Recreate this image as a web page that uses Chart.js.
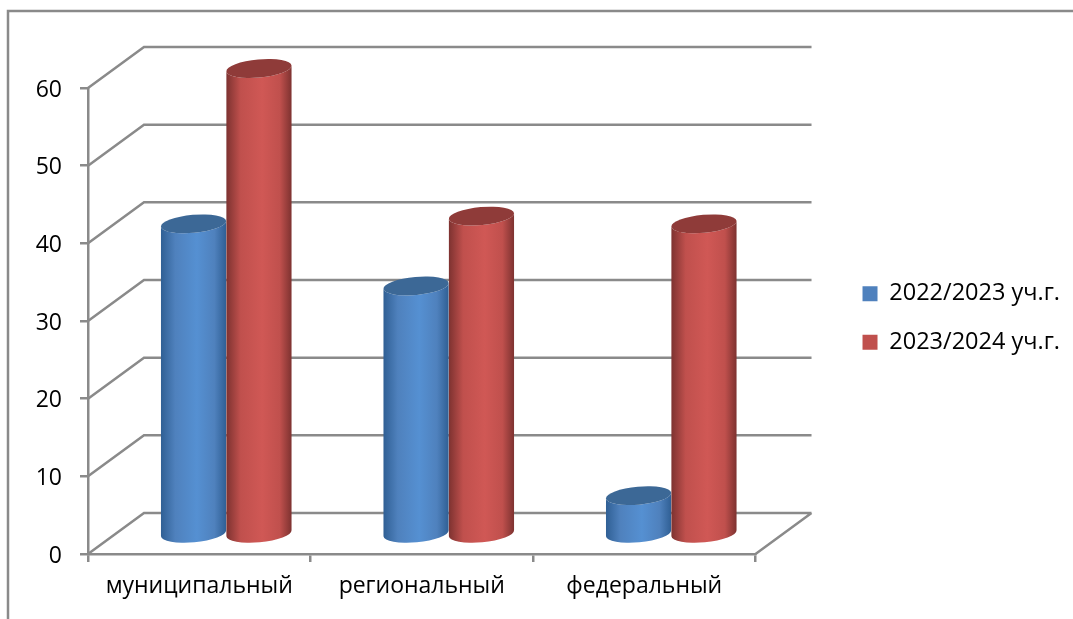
<!DOCTYPE html>
<html lang="ru">
<head>
<meta charset="utf-8">
<title>Диаграмма</title>
<script src="https://cdn.jsdelivr.net/npm/chart.js@4"></script>
<style>
    html, body { margin: 0; padding: 0; background: #fff; }
    canvas { display: block; }
</style>
</head>
<body>
<canvas id="levelChart" width="1073" height="619"></canvas>
<script>
const categories = ['муниципальный', 'региональный', 'федеральный'];
const seriesNames = ['2022/2023 уч.г.', '2023/2024 уч.г.'];
const values2022 = [40, 32, 5];
const values2023 = [60, 41, 40];
const yTicks = [0, 10, 20, 30, 40, 50, 60];

const gridColor = '#8a8a8a';
const textFont = { family: '"Open Sans", "Noto Sans", sans-serif', size: 23 };
const legendFont = { family: textFont.family, size: 23.5 };
const depthX = 56;
const depthY = 41;

// colours of each cylinder: legend, lid, shaded edge, light centre
const blue = { base: '#4f81bd', lid: '#3c6896', edge: '#2f5f94', light: '#5590d2' };
const red = { base: '#c0504d', lid: '#8f3b39', edge: '#7d3230', light: '#d05855' };
const palette = [blue, red];

function drawCylinder(ctx, bar, colors) {
    const cx = bar.x + 27;
    const rx = bar.width / 2;
    const ry = 9;
    const tilt = -0.09;
    const top = bar.y - depthY / 2 + 1;
    const bottom = bar.base - depthY / 2 + 1;

    const side = ctx.createLinearGradient(cx - rx, 0, cx + rx, 0);
    side.addColorStop(0, colors.edge);
    side.addColorStop(0.22, colors.base);
    side.addColorStop(0.55, colors.light);
    side.addColorStop(0.82, colors.base);
    side.addColorStop(1, colors.edge);

    ctx.fillStyle = side;
    ctx.beginPath();
    ctx.ellipse(cx, top, rx, ry, tilt, Math.PI, 0, true);
    ctx.ellipse(cx, bottom, rx, ry, tilt, 0, Math.PI);
    ctx.closePath();
    ctx.fill();

    ctx.fillStyle = colors.lid;
    ctx.beginPath();
    ctx.ellipse(cx, top, rx, ry, tilt, 0, Math.PI * 2);
    ctx.fill();
}

const wallPlugin = {
    id: 'wall',
    afterLayout(chart) {
        // legend sits a little above the middle of the plot
        chart.legend.top -= 3;
        chart.legend.bottom -= 3;
    },
    beforeDatasetsDraw(chart) {
        const { ctx, scales: { x, y } } = chart;
        ctx.save();
        ctx.strokeStyle = gridColor;
        ctx.lineWidth = 2.5;
        ctx.beginPath();
        // chart frame, open on the right and at the bottom
        ctx.moveTo(8, 619);
        ctx.lineTo(8, 11);
        ctx.lineTo(1073, 11);
        yTicks.forEach(v => {
            const py = y.getPixelForValue(v);
            ctx.moveTo(x.left, py);
            ctx.lineTo(x.left + depthX, py - depthY);
            ctx.lineTo(x.right + depthX, py - depthY);
        });
        ctx.moveTo(x.right, y.bottom);
        ctx.lineTo(x.right + depthX, y.bottom - depthY);
        ctx.stroke();
        ctx.restore();
    },
    beforeDatasetDraw() {
        return false; // the cylinders replace the flat bars
    },
    afterDatasetsDraw(chart) {
        chart.data.datasets.forEach((ds, i) => {
            chart.getDatasetMeta(i).data.forEach(bar => {
                drawCylinder(chart.ctx, bar, palette[i]);
            });
        });
    }
};

new Chart(document.getElementById('levelChart'), {
    type: 'bar',
    data: {
        labels: categories,
        datasets: [
            { label: seriesNames[0], data: values2022, backgroundColor: blue.base },
            { label: seriesNames[1], data: values2023, backgroundColor: red.base }
        ]
    },
    options: {
        responsive: false,
        animation: false,
        devicePixelRatio: 1,
        layout: { padding: { top: 88, right: 3, bottom: 0, left: 0 } },
        barPercentage: 1,
        categoryPercentage: 0.588,
        scales: {
            x: {
                grid: { drawOnChartArea: false, color: gridColor, lineWidth: 2.5, tickLength: 8 },
                border: { color: gridColor, width: 2.5 },
                ticks: { color: '#000', font: textFont, padding: 11, maxRotation: 0 },
                afterFit(scale) { scale.height = 65; }
            },
            y: {
                min: 0,
                max: 60,
                grid: { drawOnChartArea: false, color: gridColor, lineWidth: 2.5, tickLength: 8 },
                border: { color: gridColor, width: 2.5 },
                ticks: { color: '#000', font: textFont, padding: 18, stepSize: 10, labelOffset: 2 },
                afterFit(scale) { scale.width = 88; }
            },
            // empty axis, only keeps the legend away from the plot
            spacer: {
                type: 'linear',
                position: 'right',
                display: true,
                grid: { display: false },
                border: { display: false },
                ticks: { display: false },
                afterFit(scale) { scale.width = 82; }
            }
        },
        plugins: {
            tooltip: { enabled: false },
            legend: {
                position: 'right',
                fullSize: false,
                maxWidth: 300,
                labels: { color: '#000', font: legendFont, boxWidth: 15, boxHeight: 15, padding: 25 }
            }
        }
    },
    plugins: [wallPlugin]
});
</script>
</body>
</html>
